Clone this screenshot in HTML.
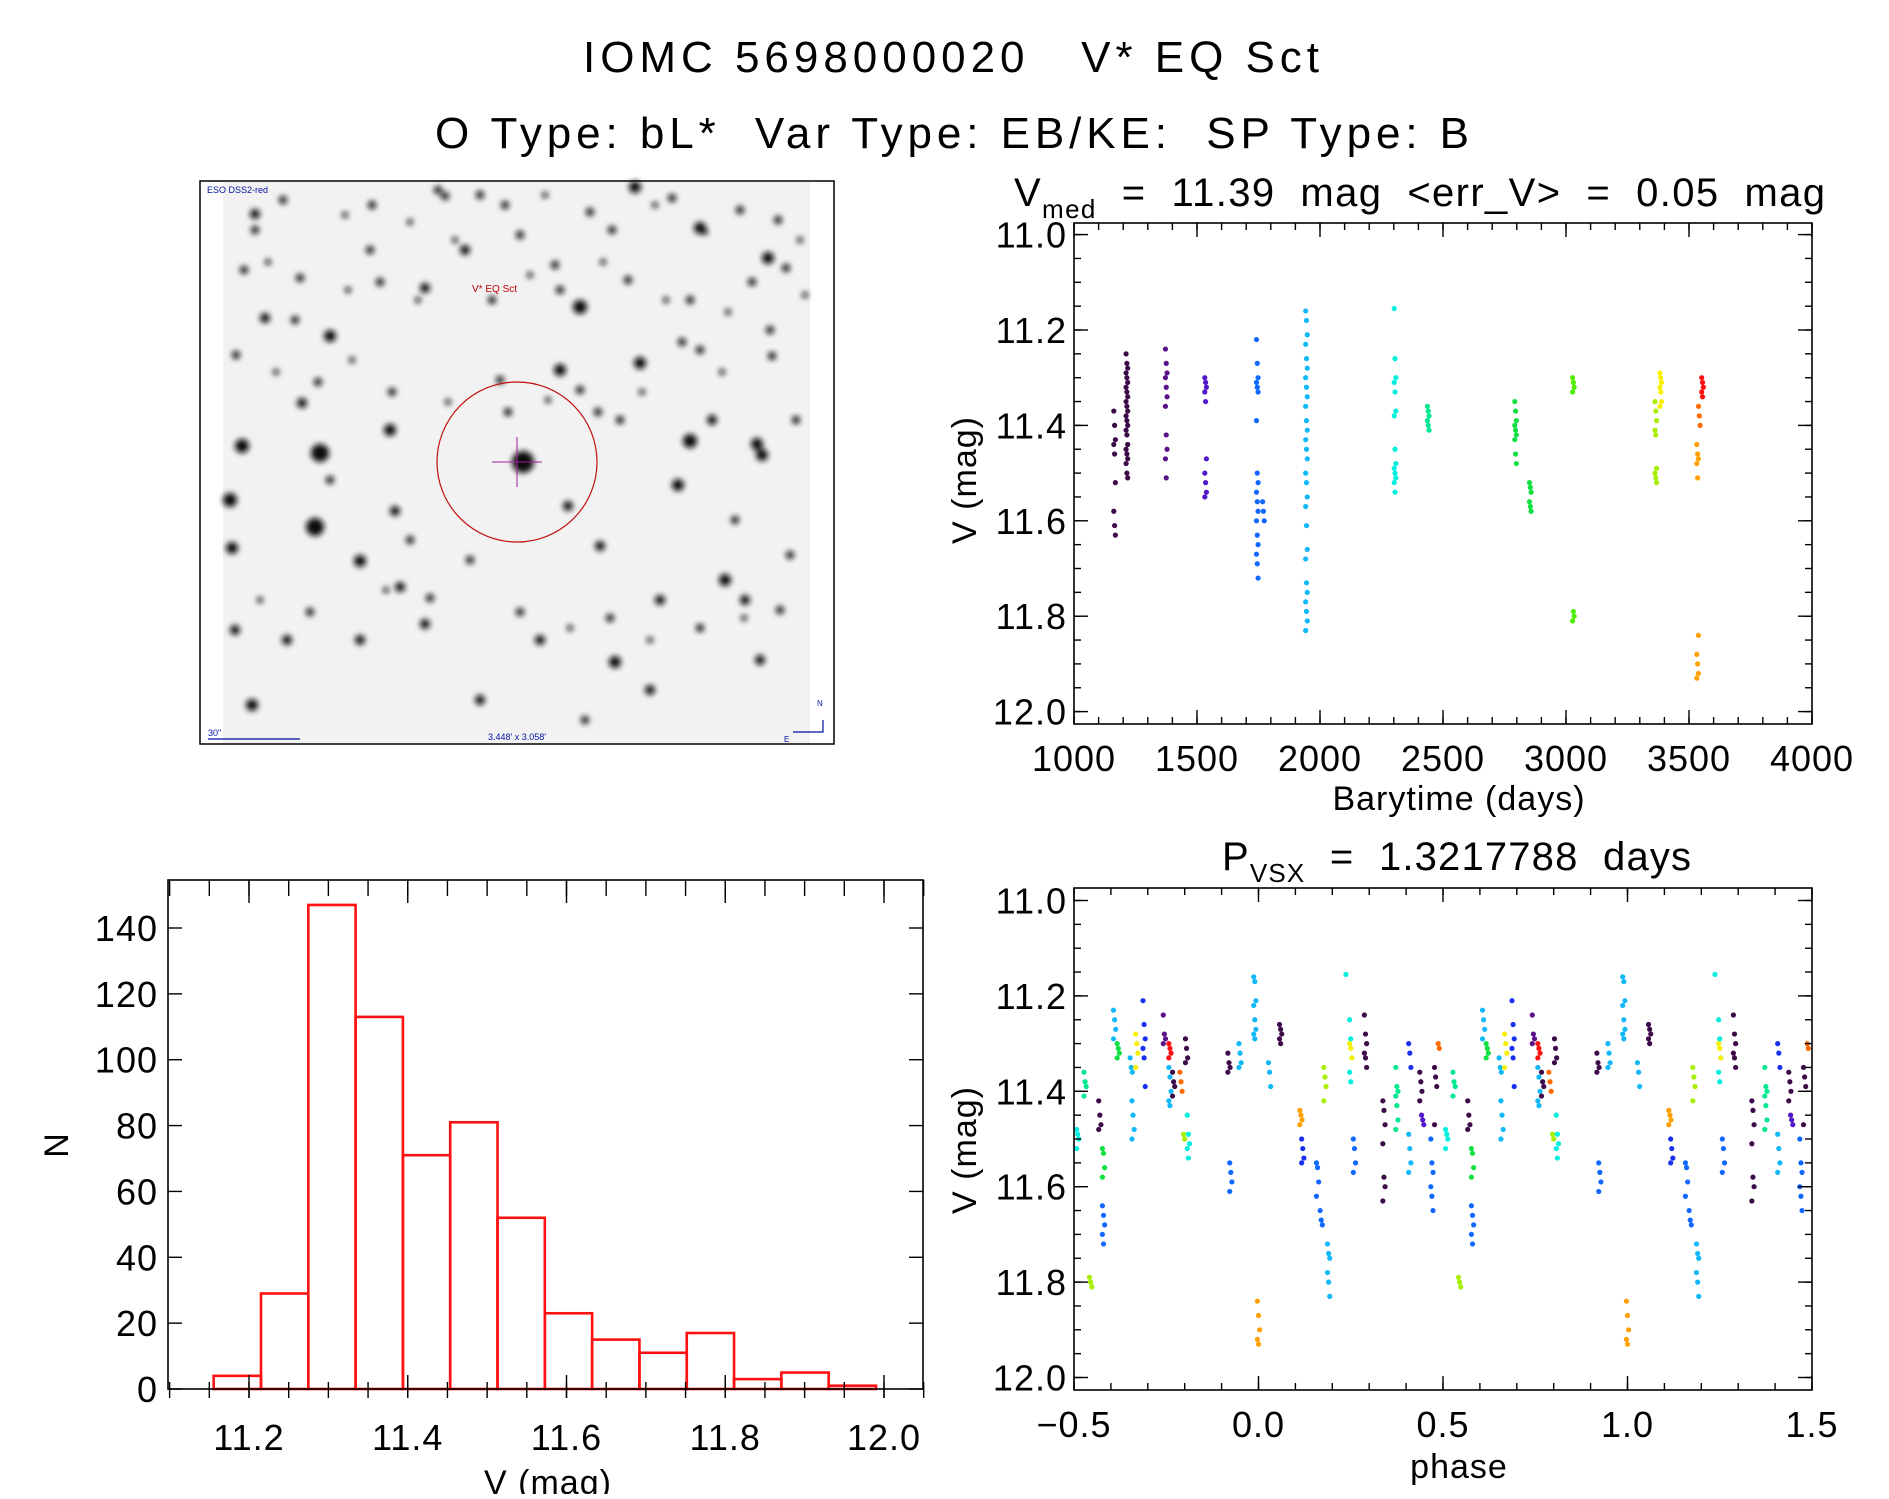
<!DOCTYPE html>
<html><head><meta charset="utf-8">
<style>
html,body{margin:0;padding:0;background:#fff;}
body{width:1889px;height:1494px;overflow:hidden;font-family:"Liberation Sans",sans-serif;}
svg text{font-family:"Liberation Sans",sans-serif;fill:#000;white-space:pre;}
</style></head>
<body>
<svg id="fig" width="1889" height="1494" viewBox="0 0 1889 1494" xmlns="http://www.w3.org/2000/svg" xml:space="preserve">
<defs>
<filter id="blur" x="-50%" y="-50%" width="200%" height="200%"><feGaussianBlur stdDeviation="3"/></filter>
</defs>
<text x="583" y="72" font-size="44" textLength="736" lengthAdjust="spacing">IOMC 5698000020   V* EQ Sct</text>
<text x="435" y="148" font-size="44" textLength="1034" lengthAdjust="spacing">O Type: bL*  Var Type: EB/KE:  SP Type: B</text>

<g id="sky">
<rect x="200" y="181" width="634" height="563" fill="#fff" stroke="#000" stroke-width="1.5"/>
<rect x="223" y="182" width="587" height="561" fill="#f2f2f2"/>
<g id="stars" filter="url(#blur)"></g>
<ellipse cx="517" cy="462" rx="80" ry="80" fill="none" stroke="#c01010" stroke-width="1.2"/>
<line x1="492" y1="462" x2="542" y2="462" stroke="#a020a0" stroke-width="1"/>
<line x1="517" y1="437" x2="517" y2="487" stroke="#a020a0" stroke-width="1"/>
<text x="472" y="292" font-size="10" style="fill:#c00000">V* EQ Sct</text>
<text x="207" y="193" font-size="9" style="fill:#0010a0">ESO DSS2-red</text>
<text x="208" y="736" font-size="9" style="fill:#0010a0">30"</text>
<line x1="208" y1="739" x2="300" y2="739" stroke="#0010a0" stroke-width="1.2"/>
<text x="517" y="740" font-size="9" text-anchor="middle" style="fill:#0010a0">3.448' x 3.058'</text>
<path d="M823 720 V732 H793" fill="none" stroke="#0010a0" stroke-width="1.2"/>
<text x="817" y="706" font-size="8" style="fill:#0010a0">N</text>
<text x="784" y="742" font-size="8" style="fill:#0010a0">E</text>
</g>

<g id="timeplot"></g>
<g id="phaseplot"></g>
<g id="histplot"></g>
</svg>
<script>
// ---------- data ----------
const colDarkPurple='#3c0a48', colPurple='#5a1288', colIndigo='#5018c8', colBlue='#1a30f0', colDodger='#1068ff', colDeepSky='#10b8f8', colCyan='#00f0e0', colSpring='#00e890', colGreen='#10e040', colLime='#50ee00', colChart='#a8ee00', colYellow='#f8f000', colOrange='#ffa000', colDarkOrange='#ff6a00', colRed='#ff1010';

const timeGroupT = [1165,1215,1375,1535,1745,1770,1945,2305,2440,2795,2855,3030,3365,3385,3535,3542,3555];
const timeGroupColor = [colDarkPurple,colDarkPurple,colPurple,colIndigo,colDodger,colDodger,colDeepSky,colCyan,colSpring,colGreen,colGreen,colLime,colChart,colYellow,colOrange,colDarkOrange,colRed];
const timeGroupMags = [
 [11.37,11.40,11.43,11.44,11.46,11.52,11.58,11.61,11.63],
 [11.25,11.27,11.28,11.29,11.30,11.31,11.32,11.33,11.34,11.35,11.36,11.37,11.38,11.39,11.40,11.41,11.42,11.44,11.45,11.46,11.47,11.48,11.50,11.51],
 [11.24,11.27,11.29,11.30,11.32,11.34,11.36,11.42,11.45,11.47,11.51],
 [11.30,11.31,11.32,11.33,11.35,11.47,11.50,11.52,11.54,11.55],
 [11.22,11.27,11.30,11.31,11.32,11.33,11.39,11.50,11.52,11.54,11.56,11.58,11.60,11.63,11.65,11.67,11.69,11.72],
 [11.56,11.58,11.60],
 [11.16,11.18,11.21,11.23,11.26,11.28,11.30,11.32,11.34,11.36,11.39,11.41,11.43,11.45,11.47,11.50,11.52,11.55,11.57,11.61,11.66,11.68,11.73,11.75,11.77,11.79,11.81,11.83],
 [11.155,11.26,11.30,11.31,11.33,11.37,11.38,11.45,11.48,11.49,11.50,11.51,11.52,11.54],
 [11.36,11.37,11.38,11.39,11.40,11.41],
 [11.35,11.37,11.39,11.40,11.41,11.42,11.43,11.46,11.48],
 [11.52,11.53,11.54,11.56,11.57,11.58],
 [11.30,11.31,11.32,11.33,11.79,11.80,11.81],
 [11.35,11.37,11.39,11.41,11.42,11.49,11.50,11.51,11.52],
 [11.29,11.30,11.31,11.32,11.33,11.35,11.36],
 [11.44,11.46,11.47,11.48,11.51,11.84,11.88,11.90,11.92,11.93],
 [11.36,11.38,11.40],
 [11.30,11.31,11.32,11.33,11.34]
];

const phaseGroupP = [-0.49,-0.47,-0.455,-0.43,-0.42,-0.42,-0.39,-0.38,-0.345,-0.34,-0.33,-0.31,-0.255,-0.24,-0.24,-0.23,-0.21,-0.195,-0.2,-0.19,-0.08,-0.075,-0.05,-0.01,0.0,0.03,0.06,0.115,0.12,0.16,0.17,0.19,0.18,0.24,0.25,0.25,0.26,0.29,0.34,0.375,0.41,0.41,0.44,0.445,0.47,0.48,0.49];
const phaseGroupColor = [colCyan,colSpring,colChart,colDarkPurple,colGreen,colDodger,colDeepSky,colGreen,colDeepSky,colDeepSky,colYellow,colBlue,colPurple,colRed,colDeepSky,colDarkPurple,colDarkOrange,colDarkPurple,colChart,colCyan,colDarkPurple,colDodger,colDeepSky,colDeepSky,colOrange,colDeepSky,colDarkPurple,colOrange,colBlue,colDodger,colDodger,colDeepSky,colChart,colCyan,colCyan,colYellow,colDodger,colDarkPurple,colDarkPurple,colSpring,colDeepSky,colBlue,colDarkPurple,colIndigo,colDodger,colDarkPurple,colDarkOrange];
const phaseGroupMags = [
 [11.48,11.49,11.50,11.52],
 [11.36,11.38,11.39,11.41],
 [11.79,11.80,11.81],
 [11.42,11.45,11.47,11.48],
 [11.52,11.53,11.56,11.58],
 [11.64,11.66,11.68,11.70,11.72],
 [11.23,11.25,11.27,11.29],
 [11.30,11.31,11.32,11.33],
 [11.33,11.35,11.36],
 [11.42,11.45,11.48,11.50],
 [11.28,11.30,11.32,11.35],
 [11.21,11.26,11.29,11.31,11.33,11.39],
 [11.24,11.28,11.29,11.30],
 [11.30,11.31,11.32,11.33],
 [11.35,11.37,11.40,11.42,11.43],
 [11.36,11.38,11.39,11.41],
 [11.36,11.38,11.40],
 [11.29,11.31,11.33,11.34],
 [11.49,11.50],
 [11.45,11.49,11.51,11.52,11.54],
 [11.32,11.34,11.35,11.36],
 [11.55,11.57,11.59,11.61],
 [11.30,11.32,11.34,11.35],
 [11.16,11.17,11.21,11.22,11.25,11.27,11.28,11.29],
 [11.84,11.87,11.90,11.92,11.93],
 [11.34,11.36,11.39],
 [11.26,11.27,11.28,11.29,11.30],
 [11.44,11.45,11.46,11.47],
 [11.50,11.52,11.54,11.55],
 [11.55,11.56,11.59,11.62],
 [11.65,11.67,11.68],
 [11.72,11.74,11.75,11.78,11.80,11.83],
 [11.35,11.37,11.39,11.42],
 [11.155],
 [11.25,11.29,11.33,11.36,11.38],
 [11.30,11.31,11.33],
 [11.50,11.52,11.55,11.57],
 [11.24,11.28,11.30,11.32,11.33,11.35],
 [11.42,11.44,11.47,11.51,11.58,11.60,11.63],
 [11.35,11.39,11.40,11.41,11.43,11.46,11.48],
 [11.49,11.52,11.55,11.57],
 [11.30,11.32,11.35],
 [11.36,11.38,11.40,11.42],
 [11.45,11.46,11.47],
 [11.50,11.55,11.57,11.60,11.62,11.65],
 [11.35,11.37,11.39,11.47],
 [11.30,11.31]
];

const histEdgeStart = 11.1555;
const histBinWidth = 0.0596;
const histCounts = [4,29,147,113,71,81,52,23,15,11,17,3,5,1];

const timeXTicks = [1000,1500,2000,2500,3000,3500,4000];
const magTicks = [11.0,11.2,11.4,11.6,11.8,12.0];
const magTickLabels = ['11.0','11.2','11.4','11.6','11.8','12.0'];
const phaseTicks = [-0.5,0.0,0.5,1.0,1.5];
const phaseTickLabels = ['\u22120.5','0.0','0.5','1.0','1.5'];
const histXTicks = [11.2,11.4,11.6,11.8,12.0];
const histXTickLabels = ['11.2','11.4','11.6','11.8','12.0'];
const histYTicks = [0,20,40,60,80,100,120,140];

// ---------- helpers ----------
const NS='http://www.w3.org/2000/svg';
function mk(tag, parent, attrs){const e=document.createElementNS(NS,tag);for(const k in attrs)e.setAttribute(k,attrs[k]);parent.appendChild(e);return e;}
function lin(d0,d1,r0,r1){return v=>r0+(v-d0)/(d1-d0)*(r1-r0);}

function frame(g,L,T,R,B){
  const r=mk('rect',g,{x:L,y:T,width:R-L,height:B-T,fill:'none',stroke:'#000','stroke-width':1.6});
  
  
}
function xTicks(g,sx,T,B,start,end,step,len){
  for(let v=start;v<=end+1e-9;v+=step){const x=sx(v);
    mk('line',g,{x1:x,y1:B,x2:x,y2:B-len,stroke:'#000','stroke-width':1.4});
    mk('line',g,{x1:x,y1:T,x2:x,y2:T+len,stroke:'#000','stroke-width':1.4});}
}
function yTicks(g,sy,L,R,start,end,step,len){
  for(let v=start;v<=end+1e-9;v+=step){const y=sy(v);
    mk('line',g,{x1:L,y1:y,x2:L+len,y2:y,stroke:'#000','stroke-width':1.4});
    mk('line',g,{x1:R,y1:y,x2:R-len,y2:y,stroke:'#000','stroke-width':1.4});}
}
function txt(g,x,y,s,size,anchor,name){
  const t=mk('text',g,{x:x,y:y,'font-size':size,'text-anchor':anchor||'middle','letter-spacing':1});
  t.textContent=s;
  
  
  return t;
}
function dot(g,x,y,c){
  const d=mk('circle',g,{cx:x,cy:y,r:2.6,fill:c});
  
  
}

// ---------- time plot ----------
(function(){
  const g=document.getElementById('timeplot');
  const L=1074,R=1812,T=223,B=724;
  const sx=lin(1000,4000,L,R), sy=lin(11.0,12.0,234.6,711.6);
  const pts=mk('g',g,{});
  
  
  timeGroupT.forEach((t,i)=>{timeGroupMags[i].forEach((m,j)=>dot(pts,sx(t)+((j%3)-1)*0.8,sy(m),timeGroupColor[i]));});
  frame(g,L,T,R,B);
  xTicks(g,sx,T,B,1000,4000,500,14); xTicks(g,sx,T,B,1000,4000,100,7);
  yTicks(g,sy,L,R,11.0,12.0,0.2,14); yTicks(g,sy,L,R,11.0,12.0,0.05,7);
  timeXTicks.forEach(v=>txt(g,sx(v),771,String(v),36,'middle','x-tick-label'));
  magTicks.forEach((v,i)=>txt(g,1067,sy(v)+13,magTickLabels[i],36,'end','y-tick-label'));
  txt(g,1459,810,'Barytime (days)',34,'middle','x-axis-title');
  const yl=txt(g,0,0,'V (mag)',34,'middle','y-axis-title');
  yl.setAttribute('transform','translate(976,480) rotate(-90)');
  const ti=mk('text',g,{x:1014,y:206,'font-size':40,'letter-spacing':1});
  
  
  ti.innerHTML='V<tspan font-size="26" dy="12">med</tspan><tspan dy="-12">  =  11.39  mag  &lt;err_V&gt;  =  0.05  mag</tspan>';
  ti.setAttribute('textLength','812');
})();

// ---------- phase plot ----------
(function(){
  const g=document.getElementById('phaseplot');
  const L=1074,R=1812,T=888,B=1390;
  const sx=lin(-0.5,1.5,L,R), sy=lin(11.0,12.0,900.5,1377.5);
  const pts=mk('g',g,{});
  
  
  phaseGroupP.forEach((p,i)=>{phaseGroupMags[i].forEach((m,j)=>{
    const off=((j%3)-1)*0.003;
    [p,p+1].forEach(pp=>{const x=sx(pp+off); if(x>=L-2&&x<=R+2) dot(pts,x,sy(m),phaseGroupColor[i]);});
  });});
  frame(g,L,T,R,B);
  xTicks(g,sx,T,B,-0.5,1.5,0.5,14); xTicks(g,sx,T,B,-0.5,1.5,0.1,7);
  yTicks(g,sy,L,R,11.0,12.0,0.2,14); yTicks(g,sy,L,R,11.0,12.0,0.05,7);
  phaseTicks.forEach((v,i)=>txt(g,sx(v),1437,phaseTickLabels[i],36,'middle','x-tick-label'));
  magTicks.forEach((v,i)=>txt(g,1067,sy(v)+13,magTickLabels[i],36,'end','y-tick-label'));
  txt(g,1459,1478,'phase',34,'middle','x-axis-title');
  const yl=txt(g,0,0,'V (mag)',34,'middle','y-axis-title');
  yl.setAttribute('transform','translate(976,1150) rotate(-90)');
  const ti=mk('text',g,{x:1222,y:870,'font-size':40,'letter-spacing':1});
  
  
  ti.innerHTML='P<tspan font-size="26" dy="12">VSX</tspan><tspan dy="-12">  =  1.3217788  days</tspan>';
  ti.setAttribute('textLength','470');
})();

// ---------- histogram ----------
(function(){
  const g=document.getElementById('histplot');
  const L=168,R=923,T=880,B=1389;
  const sx=lin(11.2,12.0,249,884), sy=lin(0,140,1389,928);
  const bars=mk('g',g,{});
  
  
  histCounts.forEach((c,i)=>{
    const x0=sx(histEdgeStart+i*histBinWidth), x1=sx(histEdgeStart+(i+1)*histBinWidth);
    const r=mk('rect',bars,{x:x0,y:sy(c),width:x1-x0,height:sy(0)-sy(c),fill:'none',stroke:'#ff1010','stroke-width':2.6});
    
    
  });
  frame(g,L,T,R,B);
  xTicks(g,sx,T,B+9,11.2,12.0,0.2,23); xTicks(g,sx,T,B+9,11.1,12.05,0.05,16);
  yTicks(g,sy,L,R,0,140,20,14);
  histXTicks.forEach((v,i)=>txt(g,sx(v),1450,histXTickLabels[i],36,'middle','x-tick-label'));
  histYTicks.forEach(v=>txt(g,158,sy(v)+13,String(v),36,'end','y-tick-label'));
  txt(g,548,1494,'V (mag)',34,'middle','x-axis-title');
  const yl=txt(g,0,0,'N',34,'middle','y-axis-title');
  yl.setAttribute('transform','translate(68,1145) rotate(-90)');
})();

// ---------- star field (decorative) ----------
(function(){
  const g=document.getElementById('stars');
  const starX=[523,320,315,242,232,360,390,560,580,425,465,640,768,700,690,725,757,600,568,395,330,265,255,445,302,480,520,635,762,678,712,252,360,425,615,480,287,400,540,660,745,790,230,330,500,580,700,770,255,370,295,560,620,735,470,410,235,585,650,760,
    283,345,372,410,438,455,505,545,590,612,655,672,705,740,778,800,244,268,300,348,380,418,492,530,555,603,628,666,690,728,752,786,805,236,276,318,352,392,448,508,548,598,642,682,722,772,796,260,310,386,430,520,570,610,650,700,744,780];
  const starY=[462,453,527,446,548,561,430,370,307,288,250,363,258,228,441,580,444,546,506,511,336,318,214,196,403,195,235,187,455,485,420,705,640,624,662,700,640,587,640,600,600,555,500,480,380,390,350,330,230,250,320,290,420,520,560,540,630,720,690,660,
    200,215,205,222,190,240,205,195,212,230,205,198,232,210,220,240,270,262,278,290,282,300,300,275,265,262,280,300,300,312,282,268,295,355,372,382,360,392,402,412,400,412,392,342,372,356,420,600,612,590,598,612,628,618,640,628,618,610];
  const starR=[11,9,9,7,6,6,6,6,7,5,5,6,6,6,7,6,6,5,5,5,6,5,5,4,5,4,4,6,6,6,5,6,5,5,6,5,5,5,5,5,5,4,7,4,4,4,4,4,4,4,4,4,4,4,4,4,5,4,5,5,
    4,3,4,3,4,3,4,3,4,4,3,4,3,4,4,3,4,3,4,3,4,3,4,3,4,3,4,3,4,3,4,4,3,4,3,4,3,4,3,4,3,4,3,4,3,4,4,3,4,3,4,4,3,4,3,4,3,4];
  starX.forEach((x,i)=>{mk('circle',g,{cx:x,cy:starY[i],r:starR[i],fill:'#111'});});
})();
</script>
</body></html>
